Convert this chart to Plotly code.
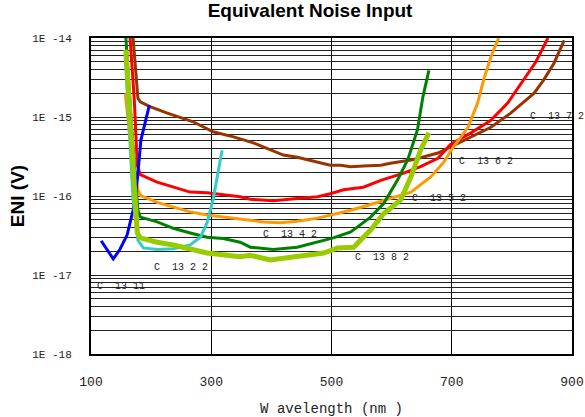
import math
import plotly.graph_objects as go

# wavelength (nm) / ENI (V)
c1311_x = [117, 137, 148, 160, 170, 177, 183, 197]
c1311_y = [2.7e-17, 1.6e-17, 2.1e-17, 3.2e-17, 6.6e-17, 1.6e-16, 5.1e-16, 1.4e-15]

c1322_x = [157, 170, 178, 187, 210, 237, 265, 282, 293, 303, 318]
c1322_y = [6.0e-15, 8.9e-17, 2.75e-17, 2.2e-17, 2.1e-17, 2.15e-17, 2.4e-17, 3.0e-17, 4.6e-17, 8.9e-17, 3.8e-16]

c1342_x = [158, 170, 178, 182, 210, 237, 265, 293, 320, 348, 365, 403, 443, 477, 503, 532, 553, 565, 587, 610, 627, 643, 652, 662]
c1342_y = [1.0e-14, 4.0e-16, 6.6e-17, 5.4e-17, 4.7e-17, 3.9e-17, 3.4e-17, 3.0e-17, 2.9e-17, 2.6e-17, 2.25e-17, 2.1e-17, 2.25e-17, 2.6e-17,
           2.95e-17, 3.5e-17, 4.6e-17, 5.4e-17, 8.1e-17, 1.6e-16, 2.9e-16, 6.9e-16, 1.8e-15, 3.9e-15]

c1352_x = [157, 167, 178, 182, 210, 237, 265, 293, 332, 387, 415, 443, 477, 498, 532, 565, 598, 632, 665, 687, 703, 727, 743, 753, 765, 778]
c1352_y = [2.0e-15, 3.8e-16, 1.2e-16, 1.02e-16, 8.3e-17, 7.2e-17, 6.3e-17, 5.75e-17, 5.25e-17, 4.7e-17, 4.6e-17, 4.8e-17, 5.25e-17,
           5.75e-17, 6.6e-17, 7.8e-17, 9.3e-17, 1.12e-16, 1.74e-16, 2.7e-16, 4.2e-16, 7.4e-16, 1.5e-15, 2.95e-15, 5.75e-15, 1.0e-14]

c1362_x = [165, 172, 177, 182, 210, 237, 265, 293, 348, 365, 403, 443, 477, 498, 520, 553, 582, 620, 648, 677, 698, 732, 765, 793, 820, 840, 860]
c1362_y = [1.0e-14, 1.65e-15, 2.45e-16, 1.86e-16, 1.5e-16, 1.29e-16, 1.12e-16, 1.1e-16, 9.8e-17, 9.1e-17, 8.7e-17, 9.3e-17, 9.8e-17,
           1.07e-16, 1.2e-16, 1.29e-16, 1.58e-16, 1.95e-16, 2.35e-16, 3.0e-16, 4.5e-16, 6.3e-16, 9.1e-16, 1.5e-15, 2.95e-15, 5.0e-15, 1.0e-14]

c1372_x = [170, 178, 182, 198, 227, 270, 303, 337, 370, 420, 443, 477, 498, 515, 532, 553, 582, 598, 637, 677, 698, 732, 765, 798, 837, 853, 870, 887]
c1372_y = [1.0e-14, 1.74e-15, 1.55e-15, 1.35e-15, 1.12e-15, 8.7e-16, 6.5e-16, 5.6e-16, 4.7e-16, 3.3e-16, 3.1e-16, 2.7e-16, 2.45e-16,
           2.45e-16, 2.35e-16, 2.4e-16, 2.45e-16, 2.6e-16, 2.9e-16, 3.5e-16, 4.2e-16, 5.6e-16, 7.4e-16, 1.12e-15, 2.0e-15, 2.95e-15, 4.8e-15, 9.3e-15]

c1382_x = [158, 167, 177, 182, 210, 237, 265, 293, 348, 365, 398, 443, 487, 510, 537, 553, 565, 587, 615, 632, 648, 662]
c1382_y = [7.1e-15, 5.1e-16, 3.4e-17, 2.95e-17, 2.6e-17, 2.4e-17, 2.1e-17, 1.9e-17, 1.7e-17, 1.78e-17, 1.55e-17, 1.7e-17, 1.9e-17,
           2.2e-17, 2.25e-17, 3.0e-17, 3.7e-17, 6.0e-17, 8.9e-17, 1.74e-16, 3.8e-16, 6.3e-16]

labels = ["C  13 11", "C  13 2 2", "C  13 4 2", "C  13 8 2", "C  13 5 2", "C  13 6 2", "C  13 7 2"]
label_x = [107, 202, 382, 535, 630, 708, 827]
label_y = [7.1e-18, 1.26e-17, 3.3e-17, 1.66e-17, 9.3e-17, 2.7e-16, 1.02e-15]

decades = [1e-18, 1e-17, 1e-16, 1e-15, 1e-14]
decade_text = ["1E -18", "1E -17", "1E -16", "1E -15", "1E -14"]

series = [
    (c1372_x, c1372_y, "#993300", 3),
    (c1362_x, c1362_y, "#FF0000", 3),
    (c1352_x, c1352_y, "#FF9900", 3),
    (c1342_x, c1342_y, "#008000", 3),
    (c1311_x, c1311_y, "#0000FF", 3),
    (c1322_x, c1322_y, "#33CCCC", 3),
    (c1382_x, c1382_y, "#99CC00", 5),
]

fig = go.Figure()
for xs, ys, col, w in series:
    fig.add_trace(go.Scatter(x=xs, y=ys, mode="lines", line=dict(color=col, width=w)))

# every 1..9 x 10^n gets a grid line, only decades get a label
grid_vals, grid_text = [], []
for d, t in zip(decades[:-1], decade_text[:-1]):
    for k in range(1, 10):
        grid_vals.append(d * k)
        grid_text.append(t if k == 1 else "")
grid_vals.append(decades[-1])
grid_text.append(decade_text[-1])

mono = "Liberation Mono, Courier New, monospace"
for t, x, y in zip(labels, label_x, label_y):
    # annotations on a log axis take log10 coordinates
    fig.add_annotation(x=x, y=math.log10(y), text=t, showarrow=False, xanchor="left",
                       font=dict(family=mono, size=10, color="#222"))

fig.update_layout(
    width=585, height=417,
    margin=dict(l=91, r=13, t=38, b=63),
    paper_bgcolor="white", plot_bgcolor="white",
    showlegend=False,
    title=dict(text="<b>Equivalent Noise Input</b>", x=0.53, xanchor="center", y=0.99, yanchor="top",
               font=dict(family="Liberation Sans, Arial", size=19, color="black")),
)
fig.update_xaxes(
    range=[100, 900], tickvals=[100, 300, 500, 700, 900],
    showgrid=True, gridcolor="black", gridwidth=1,
    showline=True, linecolor="black", linewidth=2, mirror=True,
    ticks="", ticklabelstandoff=14, zeroline=False, automargin=False,
    tickfont=dict(family=mono, size=13, color="#222"),
    title=dict(text="W avelength (nm )", standoff=15, font=dict(family=mono, size=14, color="#222")),
)
fig.update_yaxes(
    type="log", range=[-18, -14], tickvals=grid_vals, ticktext=grid_text,
    showgrid=True, gridcolor="#222", gridwidth=1,
    showline=True, linecolor="black", linewidth=2, mirror=True,
    ticks="", zeroline=False, automargin=False, ticklabelstandoff=15,
    tickfont=dict(family=mono, size=11, color="#222"),
    title=dict(text="<b>ENI (V)</b>", standoff=3, font=dict(family="Liberation Sans, Arial", size=19, color="black")),
)

# drop the default 8px page margin so the figure fills the window
fig.write_html("out.html", config={"displayModeBar": False},
               post_script="document.body.style.margin='0';")
